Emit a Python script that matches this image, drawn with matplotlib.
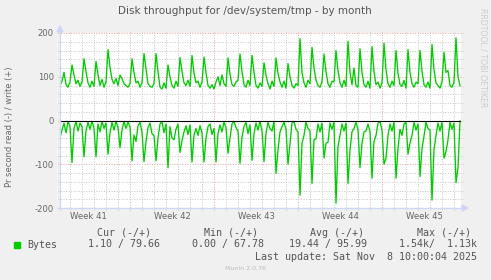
import matplotlib
matplotlib.use("Agg")
import matplotlib.pyplot as plt
from matplotlib.lines import Line2D
from matplotlib.patches import Polygon
import numpy as np

# ---------------- data ----------------
# time axis in days since Sun 2025-10-05 00:00; one sample every 4 hours
first_sample_day = 14 / 12
sample_step_day = 1 / 6

# bytes per second written (+)
write_values = [
    80, 90, 110, 82, 76, 88,
    127, 104, 84, 92, 78, 88,
    141, 112, 86, 76, 90, 78,
    135, 105, 80, 94, 76, 88,
    162, 122, 94, 84, 96, 80,
    104, 96, 84, 80, 76, 84,
    141, 110, 86, 90, 76, 86,
    153, 118, 84, 78, 76, 84,
    153, 112, 76, 72, 86, 74,
    127, 100, 80, 74, 90, 78,
    144, 112, 86, 80, 92, 78,
    149, 108, 86, 90, 76, 88,
    145, 110, 80, 74, 82, 72,
    88, 100, 80, 104, 84, 78,
    143, 106, 82, 78, 88, 92,
    152, 112, 82, 76, 92, 80,
    149, 110, 80, 74, 86, 78,
    132, 104, 84, 72, 90, 78,
    143, 108, 88, 76, 90, 74,
    130, 100, 80, 74, 84, 80,
    187, 110, 86, 76, 92, 84,
    167, 120, 92, 80, 76, 88,
    152, 112, 84, 76, 90, 88,
    160, 114, 86, 76, 92, 78,
    181, 110, 82, 120, 80, 76,
    164, 110, 82, 76, 90, 74,
    169, 112, 82, 88, 74, 86,
    177, 116, 84, 76, 90, 80,
    160, 108, 82, 78, 92, 74,
    162, 110, 84, 76, 88, 84,
    160, 112, 82, 76, 88, 74,
    174, 116, 86, 80, 74, 88,
    156, 110, 114, 80, 76, 88,
    189, 100, 79.66,
]

# bytes per second read (-), drawn below zero
read_values = [
    40, 22, 6, 28, 2, 14,
    96, 18, 2, 24, 6, 14,
    83, 24, 4, 20, 2, 18,
    83, 8, 26, 2, 18, 6,
    77, 28, 4, 22, 2, 16,
    62, 22, 2, 18, 4, 14,
    92, 33, 48, 12, 4, 26,
    94, 48, 16, 6, 30, 34,
    92, 40, 8, 2, 28, 8,
    108, 14, 40, 44, 20, 8,
    73, 46, 26, 12, 32, 10,
    95, 34, 18, 34, 12, 28,
    95, 40, 14, 8, 32, 18,
    95, 30, 10, 26, 4, 16,
    75, 40, 8, 2, 16, 24,
    98, 38, 14, 4, 30, 10,
    91, 30, 6, 22, 2, 24,
    94, 30, 4, 18, 24, 2,
    121, 67, 26, 14, 4, 20,
    100, 52, 6, 2, 20, 26,
    171, 52, 34, 4, 18, 24,
    144, 44, 42, 8, 26, 6,
    86, 52, 50, 6, 20, 4,
    189, 60, 34, 8, 24, 6,
    144, 67, 26, 18, 4, 20,
    108, 52, 26, 24, 8, 26,
    132, 48, 34, 6, 2, 22,
    100, 86, 34, 8, 24, 4,
    132, 64, 20, 34, 8, 4,
    77, 52, 34, 4, 22, 8,
    128, 64, 36, 4, 18, 22,
    182, 67, 34, 6, 24, 4,
    86, 71, 44, 4, 20, 6,
    142, 108, 1.1,
]

week_labels = ["Week 41", "Week 42", "Week 43", "Week 44", "Week 45"]
week_starts = [0, 7, 14, 21, 28, 35]
y_ticks = [-200, -100, 0, 100, 200]

title = "Disk throughput for /dev/system/tmp - by month"
y_label = "Pr second read (-) / write (+)"
series_name = "Bytes"
legend_headers = ["Cur (-/+)", "Min (-/+)", "Avg (-/+)", "Max (-/+)"]
legend_values = ["1.10 / 79.66", "0.00 / 67.78", "19.44 / 95.99", "1.54k/  1.13k"]
last_update = "Last update: Sat Nov  8 10:00:04 2025"
version = "Munin 2.0.76"
side_text = "RRDTOOL / TOBI OETIKER"

# ---------------- figure ----------------
W, H = 491, 280
plt.rcParams["lines.scale_dashes"] = False
fig = plt.figure(figsize=(W / 100, H / 100), dpi=100)
fig.patch.set_facecolor("#F0F0F0")

def fx(px):
    return px / W

def fy(py):
    return 1 - py / H

L, R, T, B = 60, 461, 33, 208
ax = fig.add_axes([fx(L), fy(B), fx(R) - fx(L), fy(T) - fy(B)])
ax.set_facecolor("white")
x0 = first_sample_day
ax.set_xlim(14 / 12, 415 / 12)
ax.set_ylim(-200, 200)
for s in ax.spines.values():
    s.set_visible(False)

FONT = "#666666"
GRID = "#c2c2c2"
MGRID = "#ee9c9c"
dots = (0, (0.72, 1.1))
ex = 2 / (R - L)
ey = 2 / (B - T)

# horizontal grid
for v in range(-200, 201, 20):
    if v % 100 == 0:
        continue
    ax.axhline(v, xmin=-ex, xmax=1 + ex, color=GRID, lw=0.65, ls=dots, clip_on=False, zorder=1)
for v in y_ticks:
    ax.axhline(v, xmin=-ex, xmax=1 + ex, color=MGRID, lw=0.65, ls=dots, clip_on=False, zorder=1)
# vertical grid (daily minor, weekly major)
xmin_d, xmax_d = ax.get_xlim()
for d in range(int(np.ceil(xmin_d)), int(np.floor(xmax_d)) + 1):
    if d % 7 == 0:
        continue
    ax.axvline(d, ymin=-ey, ymax=1 + ey, color=GRID, lw=0.65, ls=dots, clip_on=False, zorder=1)
for d in week_starts:
    if xmin_d < d < xmax_d:
        ax.axvline(d, ymin=-ey, ymax=1 + ey, color=MGRID, lw=0.65, ls=dots, clip_on=False, zorder=1)

# series
t_w = x0 + sample_step_day * np.arange(len(write_values))
t_r = x0 + sample_step_day * np.arange(len(read_values))
ax.plot(t_w, write_values, color="#00CC00", lw=0.95, zorder=3)
ax.plot(t_r, -np.asarray(read_values, dtype=float), color="#00CC00", lw=0.95, zorder=3)
ax.axhline(0, color="black", lw=0.8, zorder=4)

# ticks
ax.set_yticks(y_ticks)
ax.set_yticklabels([str(v) for v in y_ticks])
centers = [(week_starts[i] + week_starts[i + 1]) / 2 for i in range(len(week_labels))]
ax.set_xticks(centers)
ax.set_xticklabels(week_labels)
ax.tick_params(axis="both", length=0, labelsize=6.1, labelcolor=FONT)
ax.tick_params(axis="y", pad=4.3)
ax.tick_params(axis="x", pad=2.6)

# axes lines + arrows
AX = "#CFD6F8"
fig.add_artist(Line2D([fx(L), fx(L)], [fy(B + 2), fy(T - 5)], color=AX, lw=0.9))
fig.add_artist(Line2D([fx(L - 2), fx(R + 2)], [fy(B), fy(B)], color=AX, lw=0.9))
fig.add_artist(Polygon([[fx(L - 3), fy(T - 1)], [fx(L + 3), fy(T - 1)], [fx(L), fy(T - 7)]],
                       closed=True, color=AX, transform=fig.transFigure))
fig.add_artist(Polygon([[fx(R + 1), fy(B - 3)], [fx(R + 1), fy(B + 3)], [fx(R + 7), fy(B)]],
                       closed=True, color=AX, transform=fig.transFigure))

# texts
fig.text(fx(245), fy(11.5), title, ha="center", va="center", fontsize=7.5, color="#555555")
fig.text(fx(9.5), fy(126.5), y_label, ha="center", va="center", rotation=90, fontsize=6.0, color=FONT)
fig.text(fx(483.5), fy(58), side_text, ha="center", va="center", rotation=270, fontsize=5.6, color="#cccccc")

MONO = "DejaVu Sans Mono"
LEG = "#555555"
fig.add_artist(Polygon([[fx(14), fy(241.5)], [fx(20), fy(241.5)], [fx(20), fy(247.5)], [fx(14), fy(247.5)]],
                       closed=True, color="#00CC00", transform=fig.transFigure))
fig.text(fx(27), fy(244.5), series_name, ha="left", va="center", family=MONO, fontsize=7.2, color=LEG)
header_x = [97, 204, 310, 417]
value_x = [88, 192, 289, 399]
for hx, h in zip(header_x, legend_headers):
    fig.text(fx(hx), fy(232.7), h, ha="left", va="center", family=MONO, fontsize=7.2, color=LEG)
for vx, v in zip(value_x, legend_values):
    fig.text(fx(vx), fy(244.5), v, ha="left", va="center", family=MONO, fontsize=7.2, color=LEG)
fig.text(fx(255), fy(256.7), last_update, ha="left", va="center", family=MONO, fontsize=7.2, color=LEG)
fig.text(fx(245), fy(268.5), version, ha="center", va="center", fontsize=4.5, color="#bbbbbb")

fig.savefig("out.png", dpi=100, facecolor=fig.get_facecolor())
